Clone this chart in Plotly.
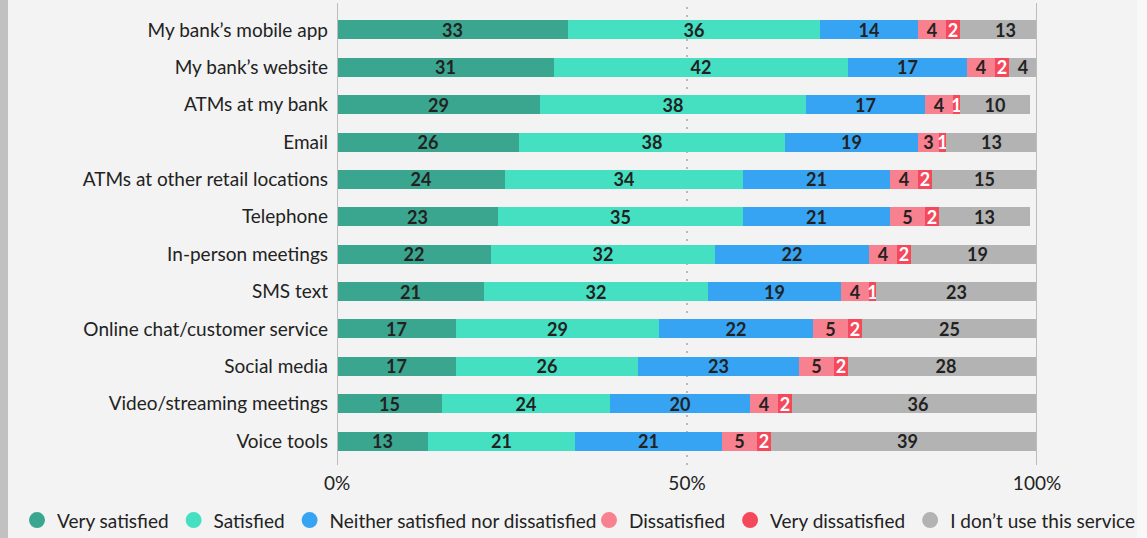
import plotly.graph_objects as go

categories = [
    "My bank’s mobile app",
    "My bank’s website",
    "ATMs at my bank",
    "Email",
    "ATMs at other retail locations",
    "Telephone",
    "In-person meetings",
    "SMS text",
    "Online chat/customer service",
    "Social media",
    "Video/streaming meetings",
    "Voice tools",
]

very_satisfied = [33, 31, 29, 26, 24, 23, 22, 21, 17, 17, 15, 13]
satisfied = [36, 42, 38, 38, 34, 35, 32, 32, 29, 26, 24, 21]
neither = [14, 17, 17, 19, 21, 21, 22, 19, 22, 23, 20, 21]
dissatisfied = [4, 4, 4, 3, 4, 5, 4, 4, 5, 5, 4, 5]
very_dissatisfied = [2, 2, 1, 1, 2, 2, 2, 1, 2, 2, 2, 2]
dont_use = [13, 4, 10, 13, 15, 13, 19, 23, 25, 28, 36, 39]

series_names = ["Very satisfied", "Satisfied", "Neither satisfied nor dissatisfied",
                "Dissatisfied", "Very dissatisfied", "I don’t use this service"]
series_values = [very_satisfied, satisfied, neither, dissatisfied, very_dissatisfied, dont_use]
colors = ["#3aa68f", "#45e0c1", "#36a4f2", "#f8818f", "#f5495b", "#b3b3b3"]
text_colors = ["#222222", "#222222", "#222222", "#222222", "#ffffff", "#222222"]

tick_vals = [0, 50, 100]
tick_text = ["0%", "50%", "100%"]

FONT = "Lato"
LABEL_SIZE = 19
fig = go.Figure()

legend_ids = ["legend", "legend", "legend", "legend2", "legend2", "legend2"]

for name, vals, col, tcol, lg in zip(series_names, series_values, colors, text_colors, legend_ids):
    fig.add_trace(go.Bar(
        y=categories, x=vals, orientation="h", name=name,
        marker=dict(color=col, line=dict(width=0)),
        text=[str(v) for v in vals], textposition="inside",
        insidetextanchor="middle", textangle=0,
        textfont=dict(family=FONT, size=18, color=tcol, weight="bold"),
        width=0.51, showlegend=False, hoverinfo="skip",
    ))
    fig.add_trace(go.Scatter(
        x=[None], y=[None], mode="markers", name=name,
        marker=dict(color=col, size=18, symbol="circle"),
        showlegend=True, legend=lg,
    ))

W, H = 1147, 538
L, R, T, B = 337, 110, 3, 73
pw, ph = W - L - R, H - T - B

def px_x(p):
    return (p - L) / pw

def px_y(p):
    return 1 - (p - T) / ph

shapes = [
    dict(type="rect", xref="paper", yref="paper", x0=px_x(0), x1=px_x(8),
         y0=px_y(H), y1=px_y(0), fillcolor="#c1c1c1", line=dict(width=0), layer="below"),
    dict(type="rect", xref="paper", yref="paper", x0=px_x(1137), x1=px_x(W),
         y0=px_y(H), y1=px_y(0), fillcolor="#f8f8f8", line=dict(width=0), layer="below"),
    dict(type="line", xref="x", yref="paper", x0=50, x1=50, y0=0, y1=1,
         line=dict(color="#a8a8a8", width=1.5, dash="2px,6px"), layer="below"),
    dict(type="line", xref="x", yref="paper", x0=0, x1=0, y0=0, y1=1,
         line=dict(color="#bcbcbc", width=2), layer="above"),
    dict(type="line", xref="x", yref="paper", x0=100, x1=100, y0=0, y1=1,
         line=dict(color="#bcbcbc", width=2), layer="above"),
]

legend_common = dict(orientation="h", xref="container", yref="container",
                     y=0.033, xanchor="left", yanchor="middle",
                     traceorder="normal",
                     font=dict(family=FONT, size=LABEL_SIZE, color="#222222"),
                     bgcolor="rgba(0,0,0,0)", itemclick=False, itemdoubleclick=False,
                     tracegroupgap=0)

fig.update_layout(
    width=W, height=H,
    margin=dict(l=L, r=R, t=T, b=B, pad=0, autoexpand=False),
    barmode="stack",
    paper_bgcolor="#f3f3f3", plot_bgcolor="#f3f3f3",
    font=dict(family=FONT, size=LABEL_SIZE, color="#222222"),
    uniformtext=dict(minsize=18, mode="show"),
    xaxis=dict(range=[0, 100], tickvals=tick_vals, ticktext=tick_text,
               showgrid=False, zeroline=False, showline=False, ticks="",
               ticklabelstandoff=5, tickfont=dict(family=FONT, size=LABEL_SIZE, color="#222222"),
               fixedrange=True),
    yaxis=dict(type="category", categoryorder="array", categoryarray=categories,
               range=[11.64, -0.72], showgrid=False, zeroline=False, showline=False,
               ticks="", ticklabelstandoff=8,
               tickfont=dict(family=FONT, size=LABEL_SIZE, color="#222222")),
    legend=dict(legend_common, x=17 / W),
    legend2=dict(legend_common, x=589 / W),
    shapes=shapes,
)

fig.write_html("out.html", config={"displayModeBar": False},
               post_script="document.body.style.margin='0';document.body.style.overflow='hidden';")
